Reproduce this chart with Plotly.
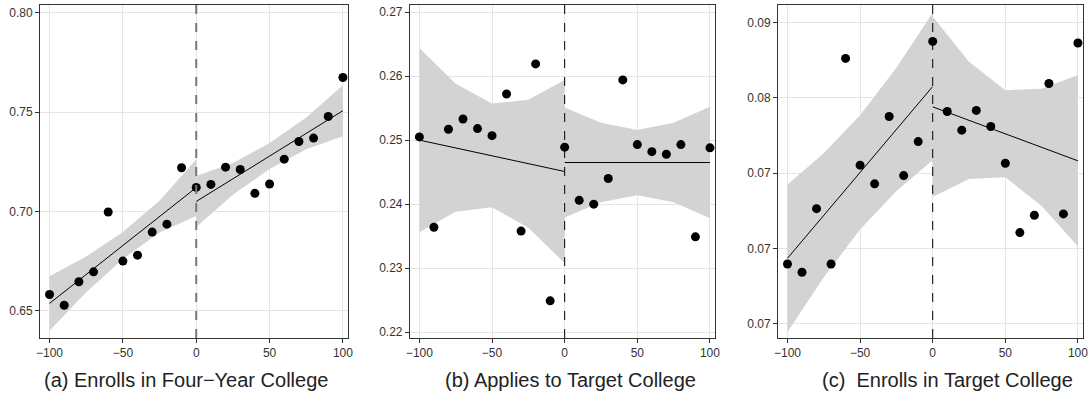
import plotly.graph_objects as go

bins = [-100, -90, -80, -70, -60, -50, -40, -30, -20, -10, 0, 10, 20, 30, 40, 50, 60, 70, 80, 90, 100]

# (a) Enrolls in four-year college
enroll4 = [0.6582, 0.6528, 0.6646, 0.6696, 0.6997, 0.6750, 0.6780, 0.6896, 0.6936, 0.7220, 0.7121,
           0.7136, 0.7223, 0.7211, 0.7091, 0.7138, 0.7263, 0.7352, 0.7369, 0.7478, 0.7674]
# (b) Applies to target college
applies = [0.2505, 0.2364, 0.2517, 0.2533, 0.2518, 0.2507, 0.2572, 0.2358, 0.2619, 0.2249, 0.2489,
           0.2406, 0.2400, 0.2440, 0.2594, 0.2493, 0.2482, 0.2478, 0.2493, 0.2349, 0.2488]
# (c) Enrolls in target college
enroll_t = [0.06896, 0.06841, 0.07264, 0.06896, 0.08263, 0.07553, 0.07429, 0.07877, 0.07484, 0.07710, 0.08376,
            0.07910, 0.07786, 0.07917, 0.07810, 0.07566, 0.07105, 0.07220, 0.08096, 0.07229, 0.08365]

fit_x_left = [-100, -75, -50, -25, 0]
fit_x_right = [0, 25, 50, 75, 100]

# fitted lines and confidence bands
a_fit_l = [0.6537, 0.6683, 0.6829, 0.6974, 0.7120]
a_up_l = [0.6674, 0.6773, 0.6897, 0.7054, 0.7263]
a_lo_l = [0.6400, 0.6593, 0.6761, 0.6894, 0.6977]
a_fit_r = [0.7050, 0.7164, 0.7279, 0.7393, 0.7507]
a_up_r = [0.7178, 0.7244, 0.7344, 0.7473, 0.7635]
a_lo_r = [0.6922, 0.7084, 0.7214, 0.7313, 0.7379]

b_fit_l = [0.2500, 0.2488, 0.2476, 0.2463, 0.2451]
b_up_l = [0.2644, 0.2588, 0.2557, 0.2563, 0.2594]
b_lo_l = [0.2356, 0.2388, 0.2395, 0.2363, 0.2308]
b_fit_r = [0.2465, 0.2465, 0.2465, 0.2465, 0.2465]
b_up_r = [0.2551, 0.2527, 0.2516, 0.2527, 0.2552]
b_lo_r = [0.2379, 0.2403, 0.2414, 0.2403, 0.2378]

c_fit_l = [0.06934, 0.07220, 0.07505, 0.07791, 0.08076]
c_up_l = [0.07424, 0.07632, 0.07885, 0.08201, 0.08566]
c_lo_l = [0.06444, 0.06808, 0.07125, 0.07381, 0.07586]
c_fit_r = [0.07941, 0.07851, 0.07762, 0.07672, 0.07582]
c_up_r = [0.08541, 0.08241, 0.08052, 0.08062, 0.08152]
c_lo_r = [0.07341, 0.07461, 0.07472, 0.07282, 0.07012]

panels = [
    ("x", "y", enroll4, [(a_fit_l, a_up_l, a_lo_l), (a_fit_r, a_up_r, a_lo_r)]),
    ("x2", "y2", applies, [(b_fit_l, b_up_l, b_lo_l), (b_fit_r, b_up_r, b_lo_r)]),
    ("x3", "y3", enroll_t, [(c_fit_l, c_up_l, c_lo_l), (c_fit_r, c_up_r, c_lo_r)]),
]

fig = go.Figure()
for xa, ya, pts, fits in panels:
    for (fit, up, lo), fx in zip(fits, [fit_x_left, fit_x_right]):
        fig.add_trace(go.Scatter(x=fx + fx[::-1], y=up + lo[::-1], fill="toself",
                                 fillcolor="#d3d3d3", line=dict(width=0),
                                 mode="lines", hoverinfo="skip", xaxis=xa, yaxis=ya))
        fig.add_trace(go.Scatter(x=fx, y=fit, mode="lines", line=dict(color="black", width=1),
                                 xaxis=xa, yaxis=ya))
    fig.add_trace(go.Scatter(x=bins, y=pts, mode="markers",
                             marker=dict(color="black", size=9), xaxis=xa, yaxis=ya))

axis_common = dict(showgrid=True, gridcolor="#e5e5e5", gridwidth=1, zeroline=False,
                   showline=True, linecolor="#333", linewidth=1, mirror=True,
                   ticks="outside", ticklen=4, tickcolor="#333", automargin=False,
                   tickfont=dict(size=12, color="#333"))

xdoms = [[0.0367, 0.3193], [0.3761, 0.6560], [0.7138, 0.9936]]
for i, dom in enumerate(xdoms):
    k = "" if i == 0 else str(i + 1)
    fig.update_layout(**{"xaxis" + k: dict(axis_common, domain=dom, range=[-106.5, 103.5],
                                           tickvals=[-100, -50, 0, 50, 100], anchor="y" + k)})

fig.update_layout(
    yaxis=dict(axis_common, range=[0.6363, 0.8039], tickvals=[0.65, 0.70, 0.75, 0.80],
               ticktext=["0.65", "0.70", "0.75", "0.80"], anchor="x"),
    yaxis2=dict(axis_common, range=[0.2191, 0.2711], tickvals=[0.22, 0.23, 0.24, 0.25, 0.26, 0.27],
                ticktext=["0.22", "0.23", "0.24", "0.25", "0.26", "0.27"], anchor="x2"),
    yaxis3=dict(axis_common, range=[0.06404, 0.08618], tickvals=[0.065, 0.07, 0.075, 0.08, 0.085],
                ticktext=["0.07", "0.07", "0.07", "0.08", "0.09"], anchor="x3"),
)

# cutoff lines
fig.add_shape(type="line", x0=0, x1=0, y0=0, y1=1, xref="x", yref="y domain",
              line=dict(color="#777", width=2, dash="dash"))
for xr in ["x2", "x3"]:
    fig.add_shape(type="line", x0=0, x1=0, y0=0, y1=1, xref=xr, yref=xr.replace("x", "y") + " domain",
                  line=dict(color="black", width=1, dash="dash"))

captions = [("(a) Enrolls in Four\u2212Year College", 0.171),
            ("(b) Applies to Target College", 0.523),
            ("(c)  Enrolls in Target College", 0.869)]
for text, xpos in captions:
    fig.add_annotation(text=text, x=xpos, y=-0.126, xref="paper", yref="paper",
                       xanchor="center", showarrow=False,
                       font=dict(size=20, color="#222"), yanchor="middle")

fig.update_layout(width=1090, height=400, showlegend=False,
                  plot_bgcolor="white", paper_bgcolor="white",
                  font=dict(family="Liberation Sans, Arial, sans-serif"),
                  margin=dict(l=0, r=0, t=5, b=62))

fig.write_html("out.html", config={"displayModeBar": False},
               post_script="document.body.style.margin='0';")
